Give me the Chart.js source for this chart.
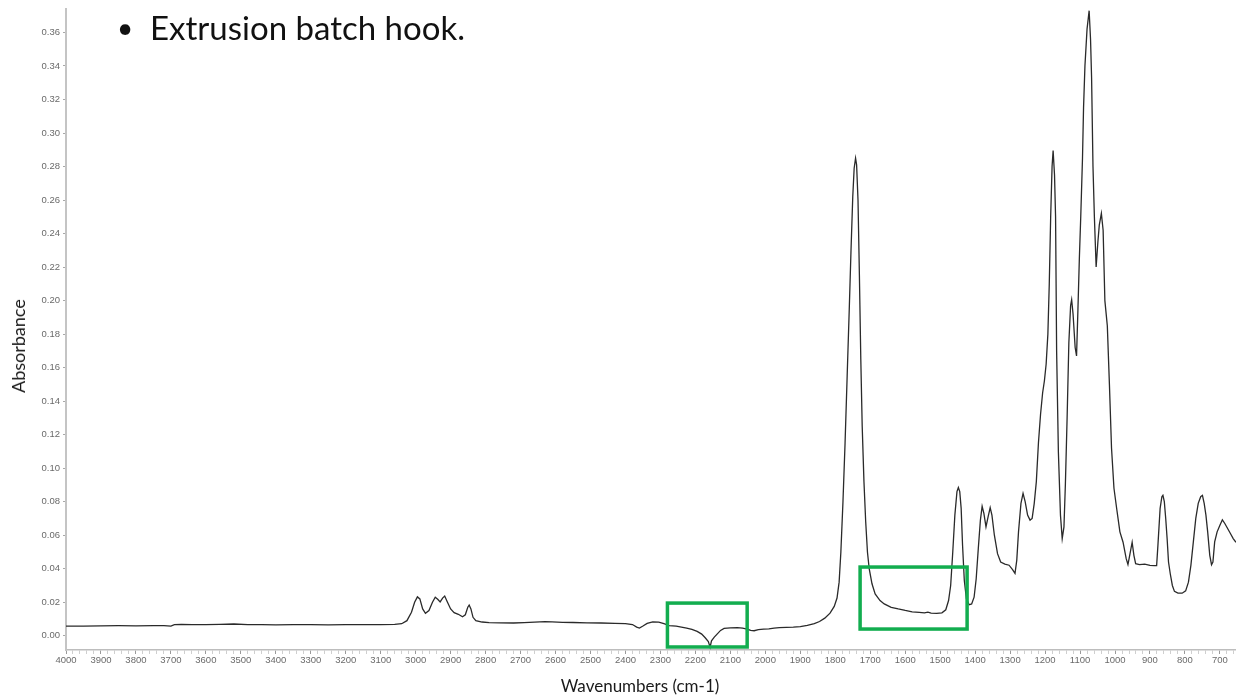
<!DOCTYPE html>
<html>
<head>
<meta charset="utf-8">
<title>Extrusion batch hook – FTIR spectrum</title>
<script src="https://cdn.jsdelivr.net/npm/chart.js@4/dist/chart.umd.min.js"></script>
<style>
  html, body { margin: 0; padding: 0; background: #ffffff; }
  #wrap { position: relative; width: 1236px; height: 698px; overflow: hidden; }
  #spectrum { position: absolute; left: 0; top: 0; }
  .txt { position: absolute; font-family: Lato, "Open Sans", sans-serif; color: #111; line-height: 1; white-space: nowrap; }
  #bullet { left: 117px; top: 13px; font-size: 28px; }
  #headingText { left: 150px; top: 11px; font-size: 33px; }
  #xTitle { left: 640px; top: 677px; font-size: 17px; color: #1a1a1a; transform: translateX(-50%); }
  #yTitle { left: 18px; top: 346px; font-size: 18px; color: #1a1a1a; transform: translate(-50%, -50%) rotate(-90deg); }
</style>
</head>
<body>
<div id="wrap">
  <canvas id="spectrum" width="1236" height="698"></canvas>
  <div class="txt" id="bullet">•</div>
  <div class="txt" id="headingText">Extrusion batch hook.</div>
  <div class="txt" id="xTitle">Wavenumbers (cm-1)</div>
  <div class="txt" id="yTitle">Absorbance</div>
</div>
<script>
// Wavenumber (cm-1) of each sample, high to low
const wavenumbers = [
  4000, 3950, 3900, 3850, 3800, 3750, 3720, 3700, 3690, 3670, 3640, 3600, 3560, 3520, 3480, 3440,
  3400, 3350, 3300, 3250, 3200, 3150, 3100, 3060, 3040, 3025, 3012, 3003, 2995, 2988, 2980, 2972,
  2962, 2952, 2944, 2937, 2930, 2923, 2917, 2910, 2900, 2890, 2878, 2866, 2858, 2851, 2847, 2842,
  2836, 2828, 2810, 2790, 2760, 2720, 2690, 2660, 2630, 2610, 2580, 2550, 2510, 2470, 2430, 2400,
  2380, 2368, 2360, 2350, 2338, 2322, 2305, 2290, 2275, 2255, 2240, 2225, 2210, 2195, 2182, 2172,
  2163, 2158, 2154, 2146, 2138, 2128, 2118, 2100, 2080, 2065, 2052, 2042, 2032, 2020, 2005, 1990,
  1975, 1960, 1940, 1920, 1900, 1880, 1860, 1845, 1830, 1815, 1803, 1795, 1789, 1784, 1778, 1772,
  1766, 1760, 1755, 1750, 1746, 1742, 1739, 1735, 1731, 1727, 1723, 1718, 1713, 1708, 1703, 1695,
  1686, 1672, 1660, 1640, 1620, 1600, 1580, 1560, 1545, 1535, 1526, 1510, 1495, 1484, 1476, 1470,
  1464, 1458, 1452, 1448, 1444, 1440, 1436, 1431, 1425, 1417, 1410, 1403, 1397, 1391, 1385, 1380,
  1375, 1369, 1363, 1357, 1352, 1345, 1336, 1327, 1315, 1303, 1293, 1286, 1281, 1276, 1269, 1263,
  1257, 1250, 1243, 1237, 1231, 1225, 1219, 1213, 1207, 1202, 1197, 1192, 1188, 1184, 1180, 1177,
  1173, 1170, 1167, 1162, 1156, 1151, 1146, 1142, 1137, 1132, 1127, 1124, 1120, 1114, 1110, 1106,
  1102, 1098, 1093, 1090, 1086, 1080, 1074, 1070, 1067, 1063, 1059, 1054, 1049, 1045, 1039, 1034,
  1029, 1022, 1016, 1010, 1003, 995, 986, 977, 968, 963, 958, 951, 946, 941, 930, 915,
  900, 888, 881, 877, 871, 866, 863, 859, 855, 851, 847, 842, 836, 830, 820, 808,
  798, 790, 783, 776, 769, 762, 755, 750, 745, 740, 735, 729, 724, 720, 715, 708,
  700, 693, 686, 678, 670, 662, 654
];

// Absorbance at each wavenumber above
const absorbance = [
  0.0058, 0.0058, 0.0059, 0.0060, 0.0059, 0.0061, 0.0060, 0.0058, 0.0066, 0.0068, 0.0067, 0.0066, 0.0068, 0.0070, 0.0067, 0.0066,
  0.0065, 0.0066, 0.0066, 0.0065, 0.0066, 0.0067, 0.0066, 0.0068, 0.0072, 0.0090, 0.0140, 0.0200, 0.0232, 0.0220, 0.0160, 0.0134,
  0.0150, 0.0200, 0.0230, 0.0218, 0.0202, 0.0225, 0.0237, 0.0205, 0.0160, 0.0138, 0.0128, 0.0113, 0.0125, 0.0170, 0.0183, 0.0160,
  0.0110, 0.0090, 0.0082, 0.0078, 0.0077, 0.0076, 0.0078, 0.0081, 0.0084, 0.0083, 0.0080, 0.0079, 0.0077, 0.0076, 0.0074, 0.0072,
  0.0067, 0.0052, 0.0046, 0.0058, 0.0074, 0.0083, 0.0081, 0.0072, 0.0061, 0.0057, 0.0052, 0.0046, 0.0038, 0.0026, 0.0010, -0.0012,
  -0.0035, -0.0068, -0.0030, -0.0008, 0.0010, 0.0032, 0.0044, 0.0047, 0.0048, 0.0046, 0.0040, 0.0032, 0.0030, 0.0036, 0.0039, 0.0041,
  0.0045, 0.0048, 0.0050, 0.0052, 0.0055, 0.0062, 0.0072, 0.0085, 0.0105, 0.0135, 0.0175, 0.0225, 0.0320, 0.0500, 0.0800, 0.1150,
  0.1550, 0.1950, 0.2300, 0.2620, 0.2790, 0.2850, 0.2810, 0.2600, 0.2150, 0.1650, 0.1250, 0.0920, 0.0680, 0.0500, 0.0400, 0.0310,
  0.0250, 0.0210, 0.0190, 0.0170, 0.0160, 0.0151, 0.0143, 0.0139, 0.0136, 0.0141, 0.0135, 0.0133, 0.0137, 0.0155, 0.0210, 0.0300,
  0.0500, 0.0720, 0.0860, 0.0885, 0.0860, 0.0760, 0.0540, 0.0330, 0.0220, 0.0185, 0.0190, 0.0230, 0.0340, 0.0520, 0.0690, 0.0772,
  0.0730, 0.0650, 0.0710, 0.0765, 0.0720, 0.0600, 0.0490, 0.0440, 0.0428, 0.0421, 0.0395, 0.0372, 0.0450, 0.0620, 0.0790, 0.0850,
  0.0800, 0.0720, 0.0690, 0.0700, 0.0790, 0.0920, 0.1150, 0.1320, 0.1450, 0.1520, 0.1620, 0.1800, 0.2100, 0.2500, 0.2800, 0.2895,
  0.2750, 0.2500, 0.1700, 0.1100, 0.0720, 0.0580, 0.0650, 0.0900, 0.1300, 0.1750, 0.1970, 0.2005, 0.1920, 0.1720, 0.1670, 0.1950,
  0.2250, 0.2500, 0.2850, 0.3150, 0.3400, 0.3620, 0.3730, 0.3560, 0.3330, 0.2800, 0.2500, 0.2200, 0.2350, 0.2450, 0.2520, 0.2420,
  0.2000, 0.1850, 0.1500, 0.1120, 0.0880, 0.0755, 0.0620, 0.0558, 0.0460, 0.0425, 0.0480, 0.0558, 0.0480, 0.0430, 0.0425, 0.0427,
  0.0420, 0.0418, 0.0418, 0.0550, 0.0760, 0.0830, 0.0838, 0.0800, 0.0700, 0.0580, 0.0440, 0.0370, 0.0300, 0.0265, 0.0254, 0.0254,
  0.0268, 0.0320, 0.0420, 0.0560, 0.0700, 0.0790, 0.0830, 0.0838, 0.0790, 0.0720, 0.0620, 0.0480, 0.0424, 0.0440, 0.0560, 0.0620,
  0.0660, 0.0692, 0.0670, 0.0640, 0.0610, 0.0580, 0.0558
];

// Axis ranges and tick steps
const xRange = [654, 4000];
const yRange = [-0.0085, 0.374];
const xMajorStep = 100;
const xMinorStep = 20;
const yStep = 0.02;

// Regions outlined in green: [high wavenumber, low wavenumber, top absorbance, bottom absorbance]
const highlightRegions = [
  [2280, 2052, 0.0195, -0.0067],
  [1729, 1423, 0.0410, 0.0040]
];

const points = wavenumbers.map((w, i) => ({ x: w, y: absorbance[i] }));

// Draws the green outline boxes in data coordinates
const highlightPlugin = {
  id: 'highlightRegions',
  afterDatasetsDraw(chart) {
    const { ctx, scales: { x, y } } = chart;
    ctx.save();
    ctx.strokeStyle = '#12ad4f';
    ctx.lineWidth = 3.5;
    highlightRegions.forEach(([w1, w2, top, bottom]) => {
      const x1 = x.getPixelForValue(w1);
      const x2 = x.getPixelForValue(w2);
      const y1 = y.getPixelForValue(top);
      const y2 = y.getPixelForValue(bottom);
      ctx.strokeRect(x1, y1, x2 - x1, y2 - y1);
    });
    ctx.restore();
  }
};

const tickFont = { family: '"Liberation Sans", Arial, sans-serif', size: 9.5 };

new Chart(document.getElementById('spectrum'), {
  type: 'line',
  data: {
    datasets: [{
      label: 'Absorbance',
      data: points,
      borderColor: '#2a2a2a',
      borderWidth: 1.3,
      pointRadius: 0,
      tension: 0,
      fill: false
    }]
  },
  options: {
    responsive: false,
    devicePixelRatio: 1,
    animation: false,
    parsing: false,
    layout: { padding: { top: 9, right: 0, left: 0, bottom: 0 } },
    plugins: {
      legend: { display: false },
      tooltip: { enabled: false },
      title: { display: false }
    },
    scales: {
      x: {
        type: 'linear',
        reverse: true,
        min: xRange[0],
        max: xRange[1],
        afterBuildTicks(scale) {
          const ticks = [];
          for (let v = xRange[1]; v >= Math.ceil(xRange[0] / xMinorStep) * xMinorStep; v -= xMinorStep) {
            ticks.push({ value: v });
          }
          scale.ticks = ticks;
        },
        afterFit(scale) { scale.height = 48; },
        ticks: {
          autoSkip: false,
          maxRotation: 0,
          includeBounds: false,
          padding: 1,
          color: '#6a6a6a',
          font: tickFont,
          callback: (v) => (v % xMajorStep === 0 ? String(v) : '')
        },
        grid: {
          drawOnChartArea: false,
          drawTicks: true,
          tickLength: 4,
          tickColor: (c) => (c.tick && c.tick.value % xMajorStep === 0 ? '#9a9a9a' : '#cfcfcf'),
          tickWidth: 1
        },
        border: { display: true, color: '#bdbdbd', width: 1.5 }
      },
      y: {
        type: 'linear',
        min: yRange[0],
        max: yRange[1],
        afterFit(scale) { scale.width = 66; },
        ticks: {
          stepSize: yStep,
          includeBounds: false,
          padding: 3,
          color: '#6a6a6a',
          font: tickFont,
          callback: (v) => v.toFixed(2)
        },
        grid: {
          drawOnChartArea: false,
          drawTicks: true,
          tickLength: 3,
          tickColor: '#a8a8a8'
        },
        border: { display: true, color: '#c4c4c4', width: 2 }
      }
    }
  },
  plugins: [highlightPlugin]
});
</script>
</body>
</html>
